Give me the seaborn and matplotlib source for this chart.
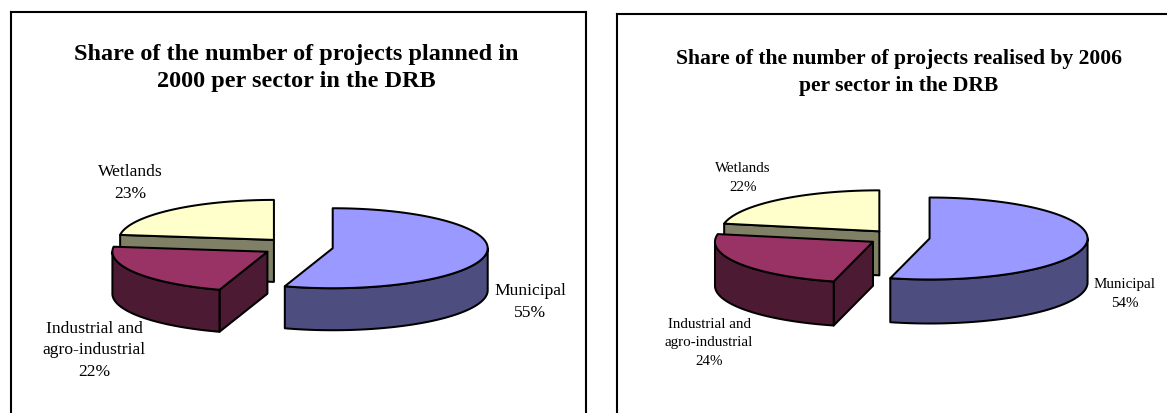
import numpy as np
import matplotlib
matplotlib.use("Agg")
import matplotlib.pyplot as plt
import seaborn as sns

sns.set_theme(style="white")
plt.rcParams["font.family"] = ["Liberation Serif", "DejaVu Serif"]

W, H = 1167, 414

sectors = ["Municipal", "Industrial and\nagro-industrial", "Wetlands"]
shares_planned = [55, 22, 23]
shares_realised = [54, 24, 22]
title_planned = "Share of the number of projects planned in\n2000 per sector in the DRB"
title_realised = "Share of the number of projects realised by 2006\nper sector in the DRB"

top_colors = sns.color_palette(["#9999FF", "#993366", "#FFFFCC"])
side_colors = [tuple(np.array(c) * 0.5) for c in top_colors]

EDGE = "black"
LW = 1.45


def arc(cx, cy, rx, ry, a0, a1, n=80):
    """Points along an elliptical rim, angles in degrees, y pointing down."""
    t = np.radians(np.linspace(a0, a1, n))
    return np.column_stack([cx + rx * np.cos(t), cy - ry * np.sin(t)])


def draw_pie(ax, shares, cx, cy, rx, ry, depth, explode):
    sweeps = np.array(shares) / sum(shares) * 360
    starts = 90 - np.concatenate([[0], np.cumsum(sweeps)[:-1]])
    style = dict(ec=EDGE, lw=LW, joinstyle="round")
    # back slice first so that nearer slices overlap it
    for i in [2, 1, 0]:
        a0, a1 = starts[i], starts[i] - sweeps[i]
        mid = np.radians((a0 + a1) / 2)
        x = cx + explode * rx * np.cos(mid)
        y = cy - explode * ry * np.sin(mid)
        rim = arc(x, y, rx, ry, a0, a1)
        apex = np.array([x, y])
        drop = np.array([0, depth])
        base_z = 10 - 3 * i

        # the leading cut face looks towards the viewer on the two left slices
        if i != 0:
            face = np.array([apex, rim[0], rim[0] + drop, apex + drop])
            ax.fill(*face.T, fc=side_colors[i], zorder=base_z, **style)

        # outer rim, only over the front half of the ellipse
        hi, lo = min(a0, 0), max(a1, -180)
        if hi > lo:
            band = arc(x, y, rx, ry, hi, lo)
            side = np.vstack([band, band[::-1] + drop])
            ax.fill(*side.T, fc=side_colors[i], zorder=base_z, **style)

        top = np.vstack([apex, rim])
        ax.fill(*top.T, fc=top_colors[i], zorder=base_z + 1, **style)


def panel(box, title, title_xy, title_size, title_gap, shares, pie, label_xy, label_size, label_gap):
    left, top, right, bottom = box
    ax = fig.add_axes([left / W, 1 - bottom / H, (right - left) / W, (bottom - top) / H])
    ax.set_xlim(left, right)
    ax.set_ylim(bottom, top)
    ax.set_xticks([])
    ax.set_yticks([])
    for spine in ax.spines.values():
        spine.set_visible(True)
        spine.set_color("black")
        spine.set_linewidth(1.5)
    ax.text(*title_xy, title, ha="center", va="center", fontsize=title_size, fontweight="bold",
            color="black", linespacing=title_gap)
    draw_pie(ax, shares, **pie)
    for name, share, xy in zip(sectors, shares, label_xy):
        ax.text(*xy, f"{name}\n{share}%", ha="center", va="center", fontsize=label_size,
                color="black", linespacing=label_gap)


fig = plt.figure(figsize=(W / 100, H / 100), dpi=100, facecolor="white")

panel((11, 13, 586, 470), title_planned, (296, 68), 17.5, 1.42, shares_planned,
      dict(cx=297.5, cy=247.8, rx=155, ry=40, depth=42, explode=0.23),
      [(530, 302), (94, 350.5), (130, 183)], 12.6, 1.43)
panel((617, 15, 1200, 470), title_realised, (899, 72.5), 15.6, 1.53, shares_realised,
      dict(cx=899, cy=238.5, rx=158, ry=41, depth=44, explode=0.195),
      [(1125, 294), (709, 343), (743, 178)], 10.8, 1.58)

fig.savefig("out.png", dpi=100)
